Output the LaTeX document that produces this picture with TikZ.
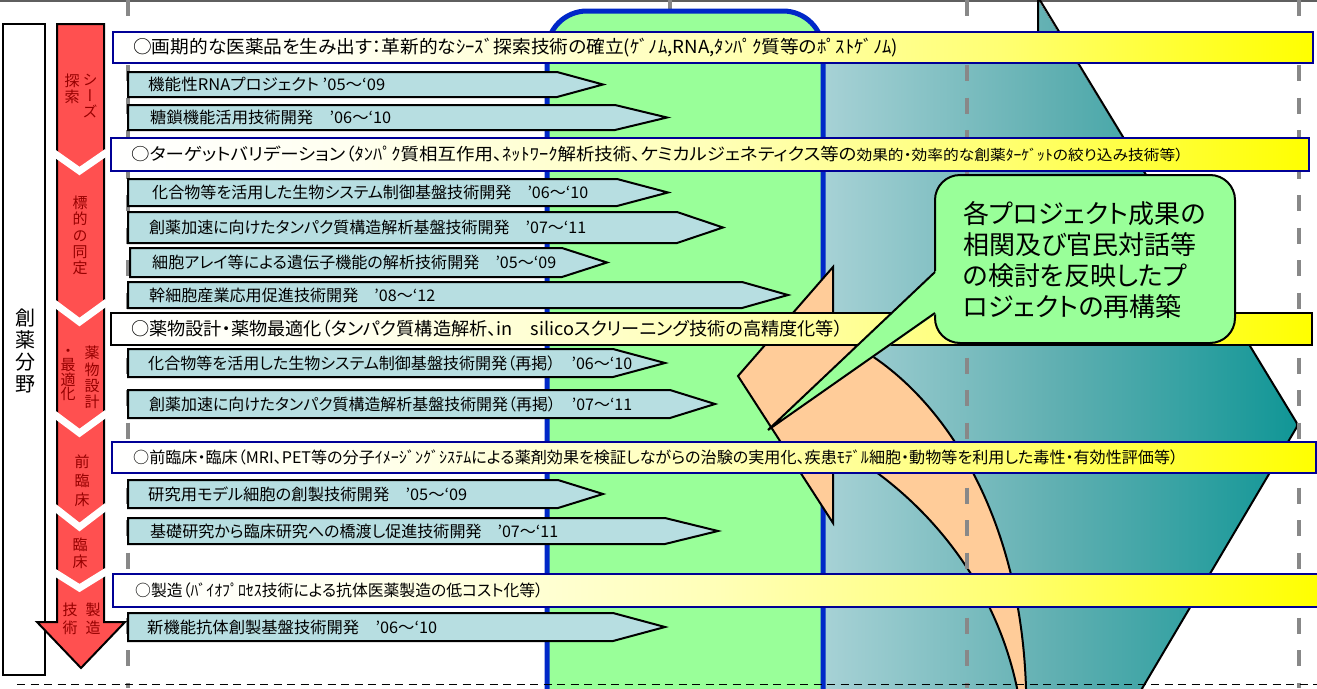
\documentclass[tikz,border=0pt]{standalone}
\usepackage{graphicx}
\usepackage{fontspec}
\setmainfont{Noto Sans CJK JP}
\newfontfamily\jp{Noto Sans CJK JP}[RawFeature=+palt]
\newfontfamily\jv{Noto Sans CJK JP}[RawFeature=+vert]
\definecolor{redA}{RGB}{255,80,80}
\definecolor{redT}{RGB}{150,0,0}
\definecolor{projF}{RGB}{183,222,225}
\definecolor{gFill}{RGB}{153,255,153}
\definecolor{bBlue}{RGB}{0,40,200}
\definecolor{navy}{RGB}{0,0,150}
\definecolor{tealL}{RGB}{168,210,214}
\definecolor{tealM}{RGB}{95,175,177}
\definecolor{tealD}{RGB}{16,150,150}
\definecolor{peach}{RGB}{255,204,153}
\definecolor{dgray}{RGB}{136,136,136}
\pgfdeclarehorizontalshading{ybar}{100bp}{color(0bp)=(white); color(25bp)=(white); color(35bp)=(yellow!6); color(50bp)=(yellow!28); color(62bp)=(yellow!55); color(75bp)=(yellow); color(100bp)=(yellow)}
\newcommand\projarr[5]{\draw[projarrow] (#1,#2) -- (#4,#2) -- (#5,{(#2+#3)/2}) -- (#4,#3) -- (#1,#3) -- cycle;}
\newsavebox\fitbox
\newlength\fitlen
\newcommand\fitto[2]{\sbox\fitbox{#2}\setlength\fitlen{\wd\fitbox}\pgfmathsetmacro\fitratio{#1/\fitlen}\scalebox{\fitratio}[1]{\usebox\fitbox}}
\begin{document}
\begin{tikzpicture}[x=1pt,y=-1pt,
  projarrow/.style={draw=black, line width=2pt, fill=projF, line join=miter},
  ptext/.style={anchor=west, inner sep=0pt, font=\jp\fontsize{16}{19}\selectfont},
  ybarbox/.style={draw=navy, line width=2pt, shading=ybar},
  btext/.style={anchor=west, inner sep=0pt},
  redlab/.style={align=center, inner sep=0pt, text=redT, font=\jv\fontsize{15}{16.3}\selectfont},
  vdash/.style={draw=dgray, line width=4pt, dash pattern=on 16.25pt off 16.25pt},
]
\useasboundingbox (0,0) rectangle (1317,688);
\clip (0,0) rectangle (1317,688);
% top line
\draw[draw=dgray!70!black, line width=1.5pt] (0,0.8) -- (1317,0.8);
% teal region
\fill[left color=tealL, right color=tealD, middle color=tealM] (820,50) -- (1038,50) -- (1038,0) -- (1298,425) -- (1140,692) -- (820,692) -- cycle;
\draw[line width=2pt, rounded corners=3pt] (1038,45) -- (1038,-3) -- (1298,425) -- (1140,692);
% dashed line hidden by green box
\draw[vdash] (670,0) -- (670,40);
% green box
\draw[draw=bBlue, fill=gFill, line width=5pt, rounded corners=40pt] (547,700) -- (547,11) -- (823,11) -- (823,700);
% orange curved arrow
\draw[fill=peach, line width=2pt, line join=miter] (833,267) -- (738,376) -- (833,523) -- (833,445) .. controls (900,480) and (990,560) .. (1017,688) -- (1017,700) -- (1026,700) -- (1026,688) .. controls (1020,500) and (930,375) .. (833,335) -- cycle;
% dashed vertical lines
\draw[vdash] (127.5,0) -- (127.5,688);
\draw[vdash] (967,0) -- (967,688);
\draw[vdash] (1299,0) -- (1299,688);
% bottom dashed line
\draw[line width=1.8pt, dash pattern=on 8pt off 5.5pt] (17,684.5) -- (1317,684.5);
% left box
\draw[line width=2.5pt, fill=white] (3,24) rectangle (45,675);
\node[align=center, inner sep=0pt, font=\jp\fontsize{20}{22}\selectfont] (field) at (25,351) {創\\薬\\分\\野};
% red arrow
\draw[fill=redA, line width=2pt] (57,24) -- (104,24) -- (104,622) -- (125,622) -- (81,668) -- (37,622) -- (57,622) -- cycle;
\foreach \ya/\yb in {153/171, 303/322, 414/433, 507/527, 572/588}
  \draw[white, line width=7pt] (54,\ya) -- (79.5,\yb) -- (107,\ya-1);
\node[redlab] (l1a) at (90,96) {シ\\ー\\ズ};
\node[redlab] (l1b) at (72,88.5) {探\\索};
\node[redlab] (l2) at (80,235.5) {標\\的\\の\\同\\定};
\node[redlab] (l3a) at (92,377.5) {薬\\物\\設\\計};
\node[redlab, font=\jv\fontsize{15}{14.5}\selectfont] (l3b) at (68,375) {・\\最\\適\\化};
\node[redlab, font=\jv\fontsize{15}{19}\selectfont] (l4) at (82,481) {前\\臨\\床};
\node[redlab, font=\jv\fontsize{15}{17}\selectfont] (l5) at (80,553.5) {臨\\床};
\node[redlab, font=\jv\fontsize{15}{18}\selectfont] (l6a) at (93,619) {製\\造};
\node[redlab, font=\jv\fontsize{15}{18}\selectfont] (l6b) at (70,619) {技\\術};
% yellow bars
\draw[ybarbox] (113,32) rectangle (1313,63);
\node[btext, font=\jp\fontsize{18}{20}\selectfont] (y1) at (133,47.5) {\fitto{765}{○画期的な医薬品を生み出す：革新的なｼｰｽﾞ探索技術の確立(ｹﾞﾉﾑ,RNA,ﾀﾝﾊﾟｸ質等のﾎﾟｽﾄｹﾞﾉﾑ)}};
\draw[ybarbox] (111,138) rectangle (1309,171);
\node[btext, font=\jp\fontsize{17}{20}\selectfont] (y2) at (131,154.5) {\fitto{1052}{○ターゲットバリデーション（ﾀﾝﾊﾟｸ質相互作用、ﾈｯﾄﾜｰｸ解析技術、ケミカルジェネティクス等の{\fontsize{14.5}{17}\selectfont 効果的・効率的な創薬ﾀｰｹﾞｯﾄの絞り込み技術等）}}};
\draw[ybarbox, draw=black] (111,313) rectangle (1312,345);
\node[btext, font=\jp\fontsize{18}{20}\selectfont] (y3) at (131,329) {\fitto{712}{○薬物設計・薬物最適化（タンパク質構造解析、in　silicoスクリーニング技術の高精度化等）}};
\draw[ybarbox] (112,442) rectangle (1316,473);
\node[btext, font=\jp\fontsize{16}{18}\selectfont] (y4) at (133,457.5) {\fitto{1045}{○前臨床・臨床（MRI、PET等の分子ｲﾒｰｼﾞﾝｸﾞｼｽﾃﾑによる薬剤効果を検証しながらの治験の実用化、疾患ﾓﾃﾞﾙ細胞・動物等を利用した毒性・有効性評価等）}};
\draw[ybarbox] (113,574) rectangle (1318,607);
\node[btext, font=\jp\fontsize{16}{18}\selectfont] (y5) at (135,590.5) {\fitto{408}{○製造（ﾊﾞｲｵﾌﾟﾛｾｽ技術による抗体医薬製造の低コスト化等）}};
% project arrows
\projarr{128}{72}{97}{557}{603}
\node[ptext] (a1) at (148,84.5) {\fitto{237}{機能性RNAプロジェクト\ ’05～‘09}};
\projarr{128}{105}{130}{615}{667}
\node[ptext] (a2) at (150,117.5) {\fitto{241}{糖鎖機能活用技術開発　’06～‘10}};
\projarr{128}{179}{206}{617}{668}
\node[ptext] (b1) at (152,192.5) {\fitto{436}{化合物等を活用した生物システム制御基盤技術開発　’06～‘10}};
\projarr{128}{212}{243}{677}{723}
\node[ptext] (b2) at (149,227.5) {\fitto{437}{創薬加速に向けたタンパク質構造解析基盤技術開発　’07～‘11}};
\projarr{130}{248}{277}{562}{607}
\node[ptext] (b3) at (152,262.5) {\fitto{404}{細胞アレイ等による遺伝子機能の解析技術開発　’05～‘09}};
\projarr{128}{282}{308}{742}{788}
\node[ptext] (b4) at (149,295) {\fitto{286}{幹細胞産業応用促進技術開発　’08～‘12}};
\projarr{128}{349}{377}{613}{665}
\node[ptext] (c1) at (148,363) {\fitto{484}{化合物等を活用した生物システム制御基盤技術開発（再掲）　’06～‘10}};
\projarr{128}{390}{418}{670}{715}
\node[ptext] (c2) at (149,404) {\fitto{483}{創薬加速に向けたタンパク質構造解析基盤技術開発（再掲）　’07～‘11}};
\projarr{128}{480}{508}{558}{603}
\node[ptext] (d1) at (148,494) {\fitto{319}{研究用モデル細胞の創製技術開発　’05～‘09}};
\projarr{128}{518}{544}{665}{718}
\node[ptext] (d2) at (150,531) {\fitto{408}{基礎研究から臨床研究への橋渡し促進技術開発　’07～‘11}};
\projarr{128}{613}{641}{613}{665}
\node[ptext] (e1) at (147,627) {\fitto{290}{新機能抗体創製基盤技術開発　’06～‘10}};
% callout
\draw[fill=gFill, line width=2pt, rounded corners=25pt] (935,175) rectangle (1235,343);
\fill[gFill] (768,430) -- (936,271) -- (945,271) -- (945,314) -- (936,314) -- cycle;
\draw[line width=2pt, line join=miter] (935,272) -- (768,430) -- (935,313);
\node[anchor=north west, align=left, inner sep=0pt, font=\jp\fontsize{26}{31}\selectfont] (note) at (963,201) {各プロジェクト成果の\\相関及び官民対話等\\の検討を反映したプ\\ロジェクトの再構築};
\end{tikzpicture}
\end{document}
